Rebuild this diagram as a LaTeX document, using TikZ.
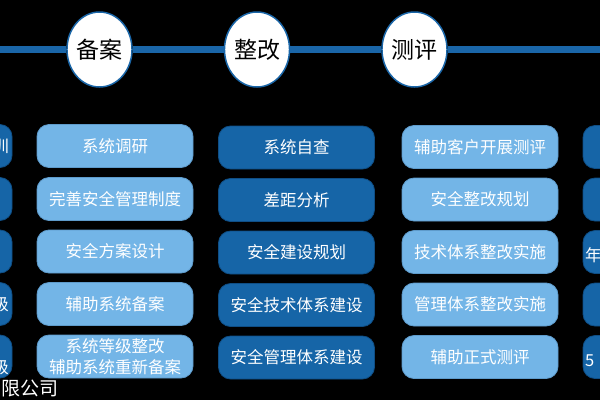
\documentclass[tikz,border=0pt]{standalone}
\usepackage{fontspec}
\setmainfont{Noto Sans CJK SC}
\usetikzlibrary{shapes.geometric}
\definecolor{lightbox}{HTML}{73B5E7}
\definecolor{lightedge}{HTML}{5E9BCB}
\definecolor{darkbox}{HTML}{1665A7}
\definecolor{darkedge}{HTML}{0F4E85}
\definecolor{lineblue}{HTML}{1A66A8}
\begin{document}
\begin{tikzpicture}[x=1pt,y=-1pt,
  boxbase/.style={rounded corners=12pt, line width=0.8pt, minimum width=156pt,
    minimum height=43pt, inner sep=0pt, text=white, align=center,
    font=\fontsize{16.5pt}{21pt}\selectfont},
  lightstep/.style={boxbase, fill=lightbox, draw=lightedge},
  darkstep/.style={boxbase, fill=darkbox, draw=darkedge},
  phase/.style={ellipse, fill=white, draw=lineblue, line width=1.5pt,
    minimum width=65pt, minimum height=75pt, inner sep=0pt,
    font=\fontsize{23pt}{26pt}\selectfont},
  partial/.style={inner sep=0pt, text=white, font=\fontsize{16.5pt}{21pt}\selectfont},
  bar/.style={draw=lineblue, line width=7pt}
]
\useasboundingbox (0,0) rectangle (600,400);
\fill[black] (0,0) rectangle (600,400);
\clip (0,0) rectangle (600,400);

% timeline
\coordinate (L) at (-5,49.5);
\coordinate (R) at (605,49.5);
\node[phase] (p1) at (99.5,49.5) {备案};
\node[phase] (p2) at (257,49.5) {整改};
\node[phase] (p3) at (414.5,49.5) {测评};
\begin{scope}[on background layer/.style={}]
\end{scope}
\draw[bar] (L) -- (p1.west);
\draw[bar] (p1.east) -- (p2.west);
\draw[bar] (p2.east) -- (p3.west);
\draw[bar] (p3.east) -- (R);

% column 1 (partly outside)
\foreach \y [count=\i] in {146,199,251.5,304,356.5} {
  \node[darkstep] (a\i) at (-66,\y) {};
}
\node[partial, anchor=east] (a1t) at (9,146) {训};
\node[partial, anchor=east] (a4t) at (9,304) {级};
\node[partial, anchor=east] (a5t) at (9,367) {级};

% column 2
\node[lightstep] (b1) at (115,146) {系统调研};
\node[lightstep] (b2) at (115,199) {完善安全管理制度};
\node[lightstep] (b3) at (115,251.5) {安全方案设计};
\node[lightstep] (b4) at (115,304) {辅助系统备案};
\node[lightstep] (b5) at (115,356.5) {系统等级整改\\辅助系统重新备案};

% column 3
\node[darkstep] (c1) at (296.5,147.5) {系统自查};
\node[darkstep] (c2) at (296.5,200) {差距分析};
\node[darkstep] (c3) at (296.5,252.5) {安全建设规划};
\node[darkstep] (c4) at (296.5,305) {安全技术体系建设};
\node[darkstep] (c5) at (296.5,357.5) {安全管理体系建设};

% column 4
\node[lightstep] (d1) at (480,147) {辅助客户开展测评};
\node[lightstep] (d2) at (480,199.5) {安全整改规划};
\node[lightstep] (d3) at (480,252) {技术体系整改实施};
\node[lightstep] (d4) at (480,304.5) {管理体系整改实施};
\node[lightstep] (d5) at (480,357) {辅助正式测评};

% column 5 (partly outside)
\foreach \y [count=\i] in {147,199.5,252,304.5,357} {
  \node[darkstep] (e\i) at (661,\y) {};
}
\node[partial, anchor=west] (e3t) at (585,255) {年};
\node[partial, anchor=west] (e5t) at (585,361) {5};

% footer fragment
\node[inner sep=0pt, anchor=west, text=white,
  font=\fontsize{19pt}{22pt}\selectfont] (foot) at (1,388) {限公司};
\end{tikzpicture}
\end{document}
